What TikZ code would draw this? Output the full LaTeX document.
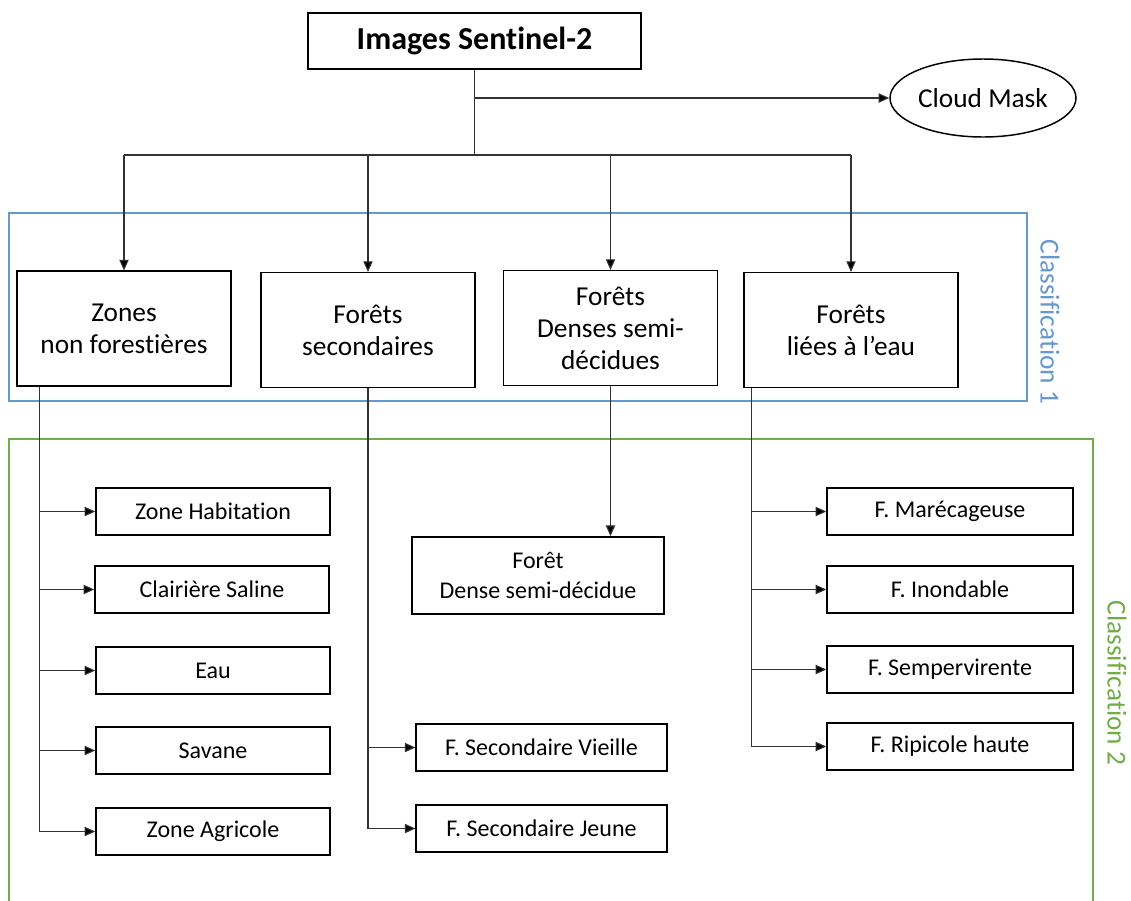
\documentclass[tikz,border=0pt]{standalone}
\usepackage{fontspec}
\setmainfont{Carlito}[Ligatures=NoCommon]
\usepackage{xcolor}
\usetikzlibrary{shapes.geometric, arrows.meta, positioning}
\definecolor{clsblue}{RGB}{100,152,206}
\definecolor{clsgreen}{RGB}{112,173,71}
\tikzstyle{arrow} = [draw=black!80, line width=0.8pt, -{Triangle[length=8pt,width=7pt,fill=black]}]
\tikzstyle{link} = [draw=black!80, line width=0.8pt]

\begin{document}
\begin{tikzpicture}[x=0.75pt, y=-0.75pt,
			box/.style={draw, line width=1.1pt, align=center, inner sep=2pt},
			mainbox/.style={box, minimum width=160.5pt, minimum height=86pt, font=\fontsize{20.5}{24}\selectfont},
			subbox/.style={box, minimum width=175.5pt, minimum height=35pt, font=\fontsize{18}{22.5}\selectfont},
			clslabel/.style={rotate=-90, font=\fontsize{20.5}{24}\selectfont}
			]
			\useasboundingbox (0,0) rectangle (1131,900);
			
			% Classification frames
			\draw[clsblue, line width=1.5pt] (9,213) rectangle (1027,401);
			\node[clslabel, text=clsblue] (c1) at (1050,322) {Classification 1};
			\draw[clsgreen, line width=1.5pt] (9,902) -- (9,439) -- (1093,439) -- (1093,902);
			\node[clslabel, text=clsgreen] (c2) at (1117,683) {Classification 2};
			
			% Top nodes
			\node[box, minimum width=250pt, minimum height=42pt, font=\fontsize{24}{28}\selectfont\bfseries] (s2) at (474.5,41) {Images Sentinel-2};
			\node[draw, ellipse, line width=1.1pt, minimum width=139.5pt, minimum height=58.5pt, inner sep=0pt, font=\fontsize{20.5}{24}\selectfont] (cloud) at (983,98) {Cloud Mask};
			
			% Classification 1
			\node[mainbox] (znf) at (124,328.5) {Zones\\non forestières};
			\node[mainbox] (fs) at (368,330) {Forêts\\secondaires};
			\node[mainbox] (fds) at (610.5,328) {Forêts\\Denses semi-\\décidues};
			\node[mainbox] (fle) at (851,330) {Forêts\\liées à l’eau};
			
			% Classification 2
			\node[subbox] (zh) at (213,511.5) {Zone Habitation};
			\node[subbox] (cs) at (212,589.5) {Clairière Saline};
			\node[subbox] (eau) at (213,670.5) {Eau};
			\node[subbox] (sav) at (213,750.5) {Savane};
			\node[subbox] (za) at (213,831.5) {Zone Agricole};
			
			\node[subbox, minimum width=189pt, minimum height=58pt] (fdsd) at (538,575.5) {Forêt\\Dense semi-décidue};
			
			\node[subbox, minimum width=188pt] (fsv) at (541.5,747.5) {F. Secondaire Vieille};
			\node[subbox, minimum width=188pt] (fsj) at (541.5,828.5) {F. Secondaire Jeune};
			
			\node[subbox, minimum width=184.5pt] (fm) at (950,511.5) {F. Marécageuse};
			\node[subbox, minimum width=184.5pt] (fi) at (950,589.5) {F. Inondable};
			\node[subbox, minimum width=184.5pt] (fsp) at (950,669.5) {F. Sempervirente};
			\node[subbox, minimum width=184.5pt] (frh) at (950,746.5) {F. Ripicole haute};
			
			% Top connectors
			\coordinate (bus) at (474.5,155);
			\draw[link] (s2) -- (bus);
			\draw[arrow] (s2.south |- cloud.west) -- (cloud.west);
			\draw[link] (znf.north |- bus) -- (fle.north |- bus);
			\foreach \n in {znf,fs,fds,fle}
				\draw[arrow] (\n.north |- bus) -- (\n.north);
			
			% Zones non forestieres
			\draw[link] (znf.south west) ++(23,0) coordinate (t1) -- (t1 |- za.west);
			\foreach \n in {zh,cs,eau,sav,za}
				\draw[arrow] (t1 |- \n.west) -- (\n.west);
			
			% Forets secondaires
			\draw[link] (fs.south) -- (fs.south |- fsj.west);
			\foreach \n in {fsv,fsj}
				\draw[arrow] (fs.south |- \n.west) -- (\n.west);
			
			% Forets denses semi-decidues
			\draw[arrow] (fds.south) -- (fds.south |- fdsd.north);
			
			% Forets liees a l'eau
			\draw[link] (fle.south west) ++(8,0) coordinate (t4) -- (t4 |- frh.west);
			\foreach \n in {fm,fi,fsp,frh}
				\draw[arrow] (t4 |- \n.west) -- (\n.west);
			
		\end{tikzpicture}
\end{document}
